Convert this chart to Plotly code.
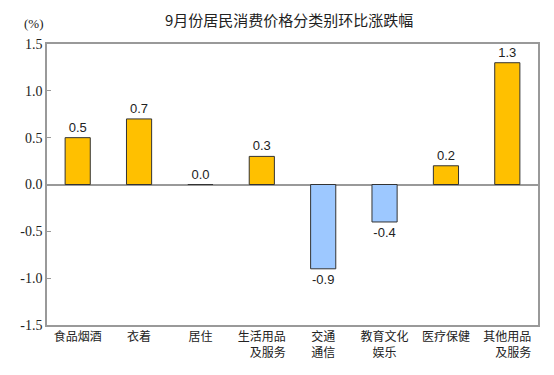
import plotly.graph_objects as go

categories = ["食品烟酒", "衣着", "居住", "生活用品<br>　及服务", "交通<br>通信", "教育文化<br>娱乐", "医疗保健", "其他用品<br>　及服务"]
values = [0.5, 0.7, 0.0, 0.3, -0.9, -0.4, 0.2, 1.3]
labels = ["0.5", "0.7", "0.0", "0.3", "-0.9", "-0.4", "0.2", "1.3"]
tick_vals = [-1.5, -1.0, -0.5, 0.0, 0.5, 1.0, 1.5]
tick_text = ["-1.5", "-1.0", "-0.5", "0.0", "0.5", "1.0", "1.5"]

colors = ["#FFC000" if v >= 0 else "#9DC8FF" for v in values]
positions = ["outside"] * len(values)

fig = go.Figure()
fig.add_trace(go.Bar(
    x=categories, y=values,
    marker=dict(color=colors, line=dict(color="#333333", width=1)),
    width=0.41,
    text=labels, textposition=positions,
    textfont=dict(family="Liberation Sans, Arial", size=13, color="#222222"),
    cliponaxis=False,
))

fig.update_layout(
    width=546, height=367,
    margin=dict(l=37, r=16, t=36, b=50),
    paper_bgcolor="white", plot_bgcolor="white",
    showlegend=False,
    title=dict(text="9月份居民消费价格分类别环比涨跌幅", x=0.515, xanchor="center", y=0.965, yanchor="middle",
               font=dict(family="Noto Sans CJK SC", size=15, color="#222222")),
    bargap=0.59,
)
fig.update_xaxes(
    showline=True, linecolor="#999999", linewidth=1.5, mirror=True,
    ticks="", tickfont=dict(family="Noto Sans CJK SC", size=12, color="#222222"),
    tickangle=0,
)
fig.update_yaxes(
    range=[-1.5, 1.5], tickvals=tick_vals, ticktext=tick_text,
    showgrid=False, zeroline=True, zerolinecolor="#999999", zerolinewidth=1.5,
    showline=True, linecolor="#999999", linewidth=1.5, mirror=True,
    ticks="inside", ticklen=4, tickcolor="#999999",
    tickfont=dict(family="Liberation Serif", size=14, color="#222222"),
)
fig.add_annotation(text="(%)", xref="paper", yref="paper", x=-0.05, y=1.072, xanchor="left", yanchor="middle",
                   showarrow=False, font=dict(family="Liberation Serif", size=13, color="#222222"))

fig.write_html("out.html")
